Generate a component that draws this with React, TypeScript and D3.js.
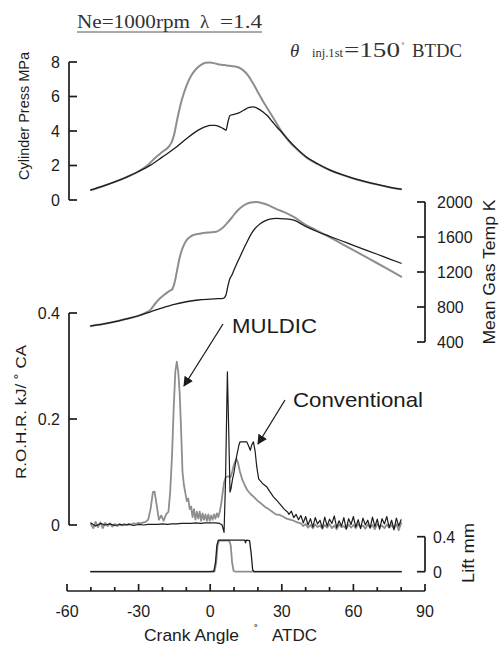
import React from 'react';
import * as d3 from 'd3';

// ---------- data (crank angle deg ATDC, value) ----------
const pressConv: [number, number][] = [
  [-50, 0.58], [-45, 0.8], [-40, 1.05], [-35, 1.33], [-30, 1.65], [-25, 2.02], [-20, 2.5], [-15, 2.98],
  [-10, 3.55], [-5, 4.05], [-2, 4.25], [0, 4.33], [2, 4.33], [4, 4.24], [5.5, 4.14], [6.6, 4.04],
  [7.4, 4.5], [8.3, 4.9], [10, 4.97], [12, 5.05], [14, 5.2], [16, 5.35], [18, 5.4], [20, 5.3],
  [22, 5.12], [24, 4.88], [26, 4.55], [28, 4.22], [30, 3.93], [33, 3.45], [36, 3.02], [40, 2.52],
  [45, 2.1], [50, 1.75], [55, 1.48], [60, 1.26], [65, 1.07], [70, 0.9], [75, 0.75], [80, 0.63],
];
const pressMuldic: [number, number][] = [
  [-50, 0.58], [-45, 0.8], [-40, 1.05], [-35, 1.33], [-30, 1.66], [-26, 2.05], [-23, 2.45], [-20, 2.8],
  [-17, 3.15], [-16, 3.4], [-15, 3.85], [-14, 4.55], [-12, 5.75], [-10, 6.6], [-8, 7.2], [-6, 7.58],
  [-4, 7.82], [-2, 7.95], [0, 7.97], [2, 7.92], [4, 7.85], [6, 7.82], [8, 7.78], [10, 7.75],
  [12, 7.68], [14, 7.5], [16, 7.2], [18, 6.75], [20, 6.25], [22, 5.75], [24, 5.3], [26, 4.85],
  [28, 4.4], [30, 3.95], [33, 3.4], [36, 2.98], [40, 2.5], [45, 2.08], [50, 1.74], [55, 1.47],
  [60, 1.25], [65, 1.06], [70, 0.89], [75, 0.74], [80, 0.62],
];
const tempConv: [number, number][] = [
  [-50, 583], [-45, 605], [-40, 632], [-35, 665], [-30, 700], [-25, 745], [-20, 790], [-15, 830],
  [-10, 860], [-5, 880], [0, 890], [3, 895], [5.5, 899], [6.5, 930], [7.5, 1050], [8.3, 1128],
  [9, 1160], [10, 1225], [12.5, 1375], [15, 1520], [18, 1670], [20, 1730], [22.3, 1775], [25, 1805],
  [27.8, 1813], [31, 1808], [35, 1792], [40, 1722], [45, 1660], [50, 1608], [55, 1557], [60, 1505],
  [65, 1454], [70, 1403], [75, 1351], [80, 1300],
];
const tempMuldic: [number, number][] = [
  [-50, 583], [-45, 605], [-40, 632], [-35, 665], [-30, 700], [-27, 735], [-25, 770], [-23, 840],
  [-21, 899], [-19, 945], [-17, 985], [-16, 1000], [-15, 1070], [-14, 1200], [-13, 1340], [-12, 1440],
  [-11, 1510], [-10, 1560], [-8, 1610], [-6, 1630], [-4, 1640], [-2, 1648], [0, 1652], [2.5, 1660],
  [5, 1700], [7, 1756], [9, 1820], [11, 1889], [13, 1940], [15, 1975], [17, 1995], [19.5, 2000],
  [22, 1985], [25, 1955], [28, 1915], [31, 1885], [35, 1830], [40, 1740], [43, 1699], [50, 1598],
  [55, 1524], [60, 1450], [65, 1375], [70, 1300], [75, 1223], [80, 1146],
];
const rohrConv: [number, number][] = [
  [-50, 0.004], [-48, -0.002], [-46, 0.003], [-44, 0.0], [-42, 0.002], [-40, -0.001], [-38, 0.001],
  [-36, 0.0], [-34, 0.001], [-32, -0.001], [-30, 0.001], [-28, 0.0], [-26, 0.001], [-24, 0.001],
  [-22, 0.001], [-20, 0.002], [-18, 0.001], [-16, 0.002], [-14, 0.002], [-12, 0.003], [-10, 0.003],
  [-8, 0.003], [-6, 0.004], [-4, 0.003], [-2, 0.004], [0, 0.004], [2, 0.004], [4, 0.003], [5, 0.0],
  [5.8, -0.014], [6.4, 0.08], [7.2, 0.289], [7.8, 0.17], [8.3, 0.062], [8.7, 0.068], [9.3, 0.085],
  [10, 0.1], [11, 0.128], [12, 0.15], [12.5, 0.157], [14, 0.157], [15.3, 0.157], [16.2, 0.148],
  [16.8, 0.141], [17.5, 0.152], [18.1, 0.157], [18.8, 0.14], [19.5, 0.11], [20.3, 0.087], [22, 0.078],
  [23.7, 0.072], [25, 0.063], [26.5, 0.053], [28, 0.046], [29.5, 0.038], [31, 0.03], [32.5, 0.024],
  [33, 0.02], [34, 0.026], [35, 0.014], [36, 0.02], [37, 0.01], [38, 0.018], [39, 0.004],
  [40, 0.016], [41, 0.0], [42, 0.012], [43, -0.004], [44, 0.014], [45, 0.002], [46, 0.009],
  [47, -0.006], [48, 0.015], [49, -0.002], [50, 0.011], [51, 0.003], [52, 0.017], [53, -0.005],
  [54, 0.008], [55, -0.002], [56, 0.014], [57, -0.008], [58, 0.012], [59, 0.001], [60, 0.016],
  [61, -0.004], [62, 0.01], [63, -0.007], [64, 0.013], [65, 0.0], [66, 0.009], [67, -0.006],
  [68, 0.015], [69, -0.003], [70, 0.011], [71, -0.008], [72, 0.012], [73, 0.002], [74, 0.016],
  [75, -0.005], [76, 0.009], [77, -0.009], [78, 0.013], [79, -0.002], [80, 0.01],
];
const rohrMuldic: [number, number][] = [
  [-50, 0.002], [-49, -0.006], [-48, 0.006], [-47, -0.004], [-46, 0.005], [-45, -0.006], [-44, 0.004],
  [-43, -0.002], [-42, 0.003], [-41, -0.003], [-40, 0.002], [-39, -0.002], [-38, 0.002], [-37, -0.001],
  [-36, 0.002], [-35, 0.0], [-34, 0.002], [-33, 0.001], [-32, 0.003], [-31, 0.002], [-30, 0.004],
  [-29, 0.003], [-28, 0.005], [-27, 0.006], [-26, 0.01], [-25, 0.03], [-24, 0.062], [-23.3, 0.063],
  [-22.5, 0.04], [-21.5, 0.01], [-20.5, 0.018], [-19.5, 0.008], [-18.5, 0.02], [-17.5, 0.025],
  [-16.8, 0.06], [-16, 0.13], [-15.3, 0.22], [-14.6, 0.29], [-14, 0.308], [-13.4, 0.29], [-12.8, 0.25],
  [-12.2, 0.18], [-11.6, 0.1], [-11, 0.075], [-10.4, 0.06], [-9.8, 0.045], [-9.2, 0.05], [-8.6, 0.03],
  [-8, 0.035], [-7.4, 0.015], [-6.8, 0.03], [-6.2, 0.01], [-5.6, 0.025], [-5, 0.012], [-4.4, 0.025],
  [-3.8, 0.008], [-3.2, 0.022], [-2.6, 0.01], [-2, 0.02], [-1.4, 0.008], [-0.8, 0.02], [-0.2, 0.008],
  [0.4, 0.018], [1, 0.01], [1.6, 0.02], [2.2, 0.012], [2.8, 0.022], [3.4, 0.015], [4, 0.025],
  [4.6, 0.04], [5.2, 0.06], [5.8, 0.08], [6.5, 0.09], [7.5, 0.092], [8.5, 0.09], [9.2, 0.1],
  [10, 0.115], [11, 0.125], [11.6, 0.118], [12.5, 0.1], [13.5, 0.085], [14.5, 0.075], [15.5, 0.066],
  [17, 0.058], [18.5, 0.052], [20, 0.045], [21.5, 0.04], [23, 0.034], [24.5, 0.03], [26, 0.025],
  [27.5, 0.02], [29, 0.019], [30.5, 0.016], [32, 0.012], [33.5, 0.01], [35, 0.008], [36.5, 0.005],
  [38, 0.003], [39, -0.002], [40, 0.002], [41, -0.005], [42, 0.0], [43, -0.006], [44, 0.001],
  [45, -0.004], [46, -0.001], [47, -0.007], [48, 0.0], [49, -0.005], [50, 0.002], [51, -0.006],
  [52, -0.001], [53, -0.008], [54, 0.001], [55, -0.004], [56, -0.002], [57, -0.007], [58, 0.001],
  [59, -0.005], [60, 0.0], [61, -0.006], [62, 0.002], [63, -0.004], [64, -0.001], [65, -0.007],
  [66, 0.001], [67, -0.005], [68, 0.0], [69, -0.008], [70, 0.002], [71, -0.004], [72, -0.001],
  [73, -0.006], [74, 0.001], [75, -0.005], [76, 0.0], [77, -0.007], [78, 0.002], [79, -0.01], [80, 0.004],
];
const liftConv: [number, number][] = [
  [-50, 0], [0, 0], [1.5, 0.005], [2.2, 0.1], [2.8, 0.3], [3.4, 0.36], [5, 0.36], [10, 0.36],
  [14.5, 0.36], [14.8, 0.33], [15.1, 0.36], [16.5, 0.355], [17.2, 0.2], [17.8, 0.02], [18.5, 0], [80, 0],
];
const liftMuldic: [number, number][] = [
  [-50, 0], [1.8, 0], [2.5, 0.1], [3.1, 0.3], [3.7, 0.355], [8, 0.355], [8.6, 0.3], [9.2, 0.1],
  [9.8, 0.01], [10.5, 0], [80, 0],
];

const xMajorTicks = [-60, -30, 0, 30, 60, 90];
const xMinorTicks = [-50, -40, -20, -10, 10, 20, 40, 50, 70, 80];
const pressTicks = [0, 2, 4, 6, 8];
const tempTicks = [400, 800, 1200, 1600, 2000];
const rohrTicks = [0, 0.2, 0.4];
const liftTicks = [0, 0.4];

const SANS = "'Liberation Sans', Arial, Helvetica, sans-serif";
const SERIF = "'Liberation Serif', 'Times New Roman', serif";
const INK = '#1c1c1c';
const GRAY = '#8e8e8e';

export default function App() {
  const x = d3.scaleLinear().domain([-60, 90]).range([67, 425]);
  const yP = d3.scaleLinear().domain([0, 8]).range([200, 62]);
  const yT = d3.scaleLinear().domain([400, 2000]).range([342, 202]);
  const yR = d3.scaleLinear().domain([0, 0.4]).range([525, 313]);
  const yL = d3.scaleLinear().domain([0, 0.4]).range([571.7, 536.7]);

  const mk = (ys: d3.ScaleLinear<number, number>, curve = d3.curveLinear) =>
    d3.line<[number, number]>().x((d) => x(d[0])).y((d) => ys(d[1])).curve(curve);

  const fmt = (v: number) => (v === 0 ? '0' : String(v));
  const axisW = 1.7;

  const leftAxis = (ys: d3.ScaleLinear<number, number>, ticks: number[], ax: number) => (
    <g>
      <line x1={ax} x2={ax} y1={ys(ticks[ticks.length - 1])} y2={ys(ticks[0])} stroke={INK} strokeWidth={axisW} />
      {ticks.map((t) => (
        <g key={t}>
          <line x1={ax} x2={ax + 8} y1={ys(t)} y2={ys(t)} stroke={INK} strokeWidth={axisW} />
          <text x={60} y={ys(t) + 5.8} textAnchor="end" fontFamily={SANS} fontSize={16} fill={INK}>{fmt(t)}</text>
        </g>
      ))}
    </g>
  );
  const rightAxis = (ys: d3.ScaleLinear<number, number>, ticks: number[], ax: number, lx: number) => (
    <g>
      <line x1={ax} x2={ax} y1={ys(ticks[ticks.length - 1])} y2={ys(ticks[0])} stroke={INK} strokeWidth={axisW} />
      {ticks.map((t) => (
        <g key={t}>
          <line x1={ax - 8} x2={ax} y1={ys(t)} y2={ys(t)} stroke={INK} strokeWidth={axisW} />
          <text x={lx} y={ys(t) + 5.8} textAnchor="start" fontFamily={SANS} fontSize={16} fill={INK}>{fmt(t)}</text>
        </g>
      ))}
    </g>
  );

  const axisY = 591;

  return (
    <svg width={499} height={645} style={{ position: 'absolute', left: 0, top: 0, background: '#fff' }}>
      <rect x={0} y={0} width={499} height={645} fill="#fff" />
      <defs>
        <marker id="ah" viewBox="0 0 10 10" refX={9} refY={5} markerWidth={10} markerHeight={10} markerUnits="userSpaceOnUse" orient="auto">
          <path d="M0,0 L10,5 L0,10 z" fill={INK} />
        </marker>
      </defs>

      {/* header */}
      <text x={77} y={28} fontFamily={SERIF} fontSize={19} fill="#333" textLength={113} lengthAdjust="spacingAndGlyphs">Ne=1000rpm</text>
      <text x={200} y={28} fontFamily={SERIF} fontSize={19} fill="#333">λ</text>
      <text x={220} y={28} fontFamily={SERIF} fontSize={19} fill="#333" textLength={42} lengthAdjust="spacingAndGlyphs">=1.4</text>
      <line x1={77} x2={262} y1={32} y2={32} stroke="#555" strokeWidth={1} />

      <text x={290} y={57} fontFamily={SERIF} fontSize={19} fontStyle="italic" fill="#333">θ</text>
      <text x={312} y={57} fontFamily={SERIF} fontSize={13} fill="#333" textLength={31} lengthAdjust="spacingAndGlyphs">inj.1st</text>
      <text x={344} y={57} fontFamily={SERIF} fontSize={21} fill="#333" textLength={56} lengthAdjust="spacingAndGlyphs">=150</text>
      <text x={401} y={50} fontFamily={SERIF} fontSize={11} fill="#333">˚</text>
      <text x={412} y={57} fontFamily={SERIF} fontSize={19} fill="#333" textLength={50} lengthAdjust="spacingAndGlyphs">BTDC</text>

      {/* axes */}
      {leftAxis(yP, pressTicks, 69)}
      {rightAxis(yT, tempTicks, 425, 437)}
      {leftAxis(yR, rohrTicks, 69)}
      {rightAxis(yL, liftTicks, 425, 433)}

      {/* x axis */}
      <line x1={x(-60)} x2={x(90)} y1={axisY} y2={axisY} stroke={INK} strokeWidth={axisW} />
      {xMajorTicks.map((t) => (
        <g key={t}>
          <line x1={x(t)} x2={x(t)} y1={axisY} y2={axisY - 7} stroke={INK} strokeWidth={axisW} />
          <text x={x(t)} y={617} textAnchor="middle" fontFamily={SANS} fontSize={16} fill={INK}>{t}</text>
        </g>
      ))}
      {xMinorTicks.map((t) => (
        <line key={t} x1={x(t)} x2={x(t)} y1={axisY} y2={axisY - 4} stroke={INK} strokeWidth={axisW} />
      ))}
      <text x={144} y={641} fontFamily={SANS} fontSize={17} fill={INK} textLength={95} lengthAdjust="spacingAndGlyphs">Crank Angle</text>
      <text x={254} y={634} fontFamily={SANS} fontSize={12} fill={INK}>˚</text>
      <text x={272} y={641} fontFamily={SANS} fontSize={17} fill={INK} textLength={45} lengthAdjust="spacingAndGlyphs">ATDC</text>

      {/* axis titles */}
      <text transform="translate(29,116) rotate(-90)" textAnchor="middle" fontFamily={SANS} fontSize={15} fill={INK} textLength={128} lengthAdjust="spacingAndGlyphs">Cylinder Press MPa</text>
      <text transform="translate(26,412) rotate(-90)" textAnchor="middle" fontFamily={SANS} fontSize={15.5} fill={INK} textLength={134} lengthAdjust="spacingAndGlyphs">R.O.H.R. kJ/ ˚ CA</text>
      <text transform="translate(495,272) rotate(-90)" textAnchor="middle" fontFamily={SANS} fontSize={16.5} fill={INK} textLength={145} lengthAdjust="spacingAndGlyphs">Mean Gas Temp K</text>
      <text transform="translate(474,553) rotate(-90)" textAnchor="middle" fontFamily={SANS} fontSize={16.5} fill={INK} textLength={60} lengthAdjust="spacingAndGlyphs">Lift mm</text>

      {/* curves: MULDIC gray, Conventional black */}
      <g fill="none" strokeLinejoin="round" strokeLinecap="round">
        <path d={mk(yP, d3.curveMonotoneX)(pressMuldic) || ''} stroke={GRAY} strokeWidth={2} />
        <path d={mk(yP, d3.curveMonotoneX)(pressConv) || ''} stroke={INK} strokeWidth={1.3} />
        <path d={mk(yT, d3.curveMonotoneX)(tempMuldic) || ''} stroke={GRAY} strokeWidth={2} />
        <path d={mk(yT, d3.curveMonotoneX)(tempConv) || ''} stroke={INK} strokeWidth={1.3} />
        <path d={mk(yR)(rohrMuldic) || ''} stroke={GRAY} strokeWidth={1.8} />
        <path d={mk(yR)(rohrConv) || ''} stroke={INK} strokeWidth={1.2} />
        <path d={mk(yL)(liftMuldic) || ''} stroke={GRAY} strokeWidth={1.8} />
        <path d={mk(yL)(liftConv) || ''} stroke={INK} strokeWidth={1.3} />
      </g>

      {/* annotations */}
      <line x1={223} y1={324} x2={184} y2={386} stroke={INK} strokeWidth={1.3} markerEnd="url(#ah)" />
      <text x={232} y={333} fontFamily={SANS} fontSize={21} fill={INK} textLength={85} lengthAdjust="spacingAndGlyphs">MULDIC</text>
      <line x1={285} y1={400} x2={258} y2={444} stroke={INK} strokeWidth={1.3} markerEnd="url(#ah)" />
      <text x={293} y={407} fontFamily={SANS} fontSize={21} fill={INK} textLength={130} lengthAdjust="spacingAndGlyphs">Conventional</text>
    </svg>
  );
}
